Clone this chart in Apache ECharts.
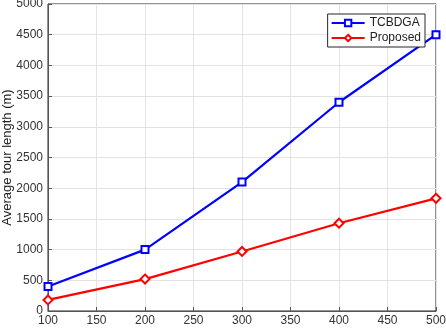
<!DOCTYPE html>
<html><head><meta charset="utf-8">
<script src="https://cdn.jsdelivr.net/npm/echarts@6/dist/echarts.min.js"></script>
<style>html,body{margin:0;padding:0;background:#fff}#c{width:446px;height:328px}</style>
</head><body><div id="c"></div>
<script>
const xValues = [100, 200, 300, 400, 500];
const tcbdga = [400, 1000, 2100, 3400, 4500];
const proposed = [180, 520, 970, 1430, 1835];
const seriesNames = ['TCBDGA', 'Proposed'];
const yLabel = 'Average tour length (m)';

const chart = echarts.init(document.getElementById('c'));
const font = 'Liberation Sans, Arial, sans-serif';
chart.setOption({
  animation: false,
  backgroundColor: '#fff',
  grid: { left: 48, right: 10, top: 4, bottom: 17, containLabel: false, outerBoundsMode: 'none',
    show: true, borderColor: '#262626', borderWidth: 1, backgroundColor: 'transparent' },
  legend: {
    data: seriesNames, orient: 'vertical', right: 21, top: 14,
    backgroundColor: '#fff', borderColor: '#262626', borderWidth: 1,
    padding: [3, 4, 3, 3], itemGap: 3, itemWidth: 33, itemHeight: 8,
    textStyle: { fontFamily: font, fontSize: 12, color: '#222' }
  },
  xAxis: {
    type: 'value', min: 100, max: 500, interval: 50,
    axisLine: { show: true, lineStyle: { color: '#555', width: 1 } },
    axisTick: { show: true, inside: true, length: 4, lineStyle: { color: '#555' } },
    axisLabel: { fontFamily: font, fontSize: 12, color: '#333', margin: 4, formatter: v => String(v) },
    splitLine: { show: true, lineStyle: { color: '#e3e3e3', width: 1 } }
  },
  yAxis: {
    type: 'value', min: 0, max: 5000, interval: 500,
    name: yLabel, nameLocation: 'middle', nameGap: 34, nameMoveOverlap: false,
    nameTextStyle: { fontFamily: font, fontSize: 13, color: '#222' },
    axisLine: { show: true, lineStyle: { color: '#555', width: 1 } },
    axisTick: { show: true, inside: true, length: 4, lineStyle: { color: '#555' } },
    axisLabel: { fontFamily: font, fontSize: 12, color: '#333', margin: 5, formatter: v => String(v) },
    splitLine: { show: true, lineStyle: { color: '#e3e3e3', width: 1 } }
  },
  series: [
    { name: seriesNames[0], type: 'line', data: xValues.map((x, i) => [x, tcbdga[i]]),
      symbol: 'emptyRect', symbolSize: 7, lineStyle: { color: '#0000ff', width: 2.2 },
      itemStyle: { color: '#0000ff', borderWidth: 2 } },
    { name: seriesNames[1], type: 'line', data: xValues.map((x, i) => [x, proposed[i]]),
      symbol: 'emptyDiamond', symbolSize: 9, lineStyle: { color: '#ff0000', width: 2.2 },
      itemStyle: { color: '#ff0000', borderWidth: 2 } }
  ]
});
</script></body></html>
